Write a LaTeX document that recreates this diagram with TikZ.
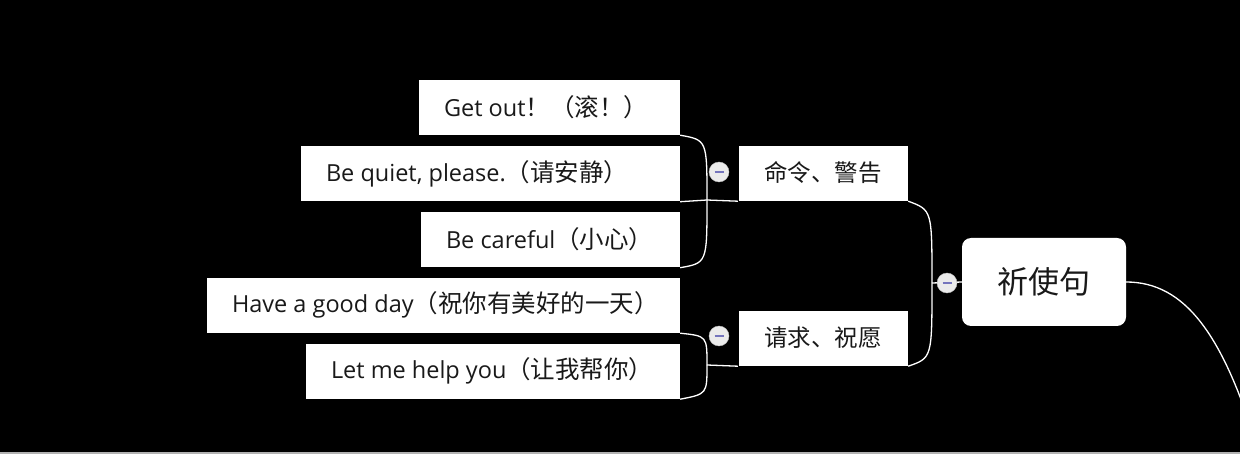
\documentclass[tikz,border=0pt]{standalone}
\usepackage{fontspec}
\setmainfont{Open Sans}
\newfontfamily\cjk{Noto Sans CJK SC}
\newcommand{\zh}[1]{{\cjk\fontsize{24.5}{27}\selectfont #1}}
\newcommand{\lefttext}[2]{\makebox[#1pt][l]{\hspace{26pt}#2}}
\begin{document}
\begin{tikzpicture}[x=1pt,y=-1pt,
  leaf/.style={draw=black, fill=white, inner sep=0pt, minimum height=56pt, font=\fontsize{23.5}{27}\selectfont, text=black!90},
  cat/.style={leaf, minimum width=170pt, font=\fontsize{23.5}{26}\selectfont\cjk},
  rootbox/.style={fill=white, rounded corners=9pt, inner sep=0pt, minimum width=164pt, minimum height=88pt, font=\fontsize{31}{36}\selectfont\cjk, text=black!90},
  conn/.style={white, line width=1.3pt},
  knob/.style={circle, fill=black!8, draw=black!25, line width=0.4pt, inner sep=0pt, minimum size=20pt},
  minusbar/.style={draw=blue!35!gray!80, line width=2pt}
]
\fill[black] (0,0) rectangle (1240,454);
\useasboundingbox (0,0) rectangle (1240,454);
\clip (0,0) rectangle (1240,454);
\fill[black!30] (0,452) rectangle (1240,454);

% leaves
\node[leaf] (g1) at (549,107) {\lefttext{262}{Get out\zh{！（滚！）}}};
\node[leaf] (g2) at (490,173.5) {\lefttext{380}{Be quiet, please.\zh{（请安静）}}};
\node[leaf] (g3) at (550,239.5) {\lefttext{260}{Be careful\zh{（小心）}}};
\node[leaf] (h1) at (443,305) {\lefttext{474}{Have a good day\zh{（祝你有美好的一天）}}};
\node[leaf] (h2) at (492.5,371) {\lefttext{375}{Let me help you\zh{（让我帮你）}}};

% categories
\node[cat] (c1) at (823,173) {命令、警告};
\node[cat] (c2) at (823,338) {请求、祝愿};

% root
\node[rootbox] (r) at (1044,282) {祈使句};

% junctions
\coordinate (j1) at (707,200);
\coordinate (j2) at (707,365);
\coordinate (jr) at (932,283);
\coordinate (off) at (1255,440);

% connectors group 1
\draw[conn] (c1.south west) -- (j1);
\draw[conn] (j1) .. controls (707,140) .. (g1.south east);
\draw[conn] (j1) -- (g2.south east);
\draw[conn] (j1) .. controls (707,263) .. (g3.south east);
% group 2
\draw[conn] (c2.south west) -- (j2);
\draw[conn] (j2) .. controls (707,336) .. (h1.south east);
\draw[conn] (j2) .. controls (707,394) .. (h2.south east);
% root
\draw[conn] (jr) -- (r.west);
\draw[conn] (jr) .. controls (932,210) .. (c1.south east);
\draw[conn] (jr) .. controls (932,358) .. (c2.south east);
\draw[conn] (r.east) .. controls (1185,282) and (1222,335) .. (off);

% knobs
\node[knob] (k1) at (719,172) {};
\draw[minusbar] ([xshift=-4.5pt]k1.center) -- ([xshift=4.5pt]k1.center);
\node[knob] (k2) at (719,336) {};
\draw[minusbar] ([xshift=-4.5pt]k2.center) -- ([xshift=4.5pt]k2.center);
\node[knob] (k3) at (947,283) {};
\draw[minusbar] ([xshift=-4.5pt]k3.center) -- ([xshift=4.5pt]k3.center);
\end{tikzpicture}
\end{document}
